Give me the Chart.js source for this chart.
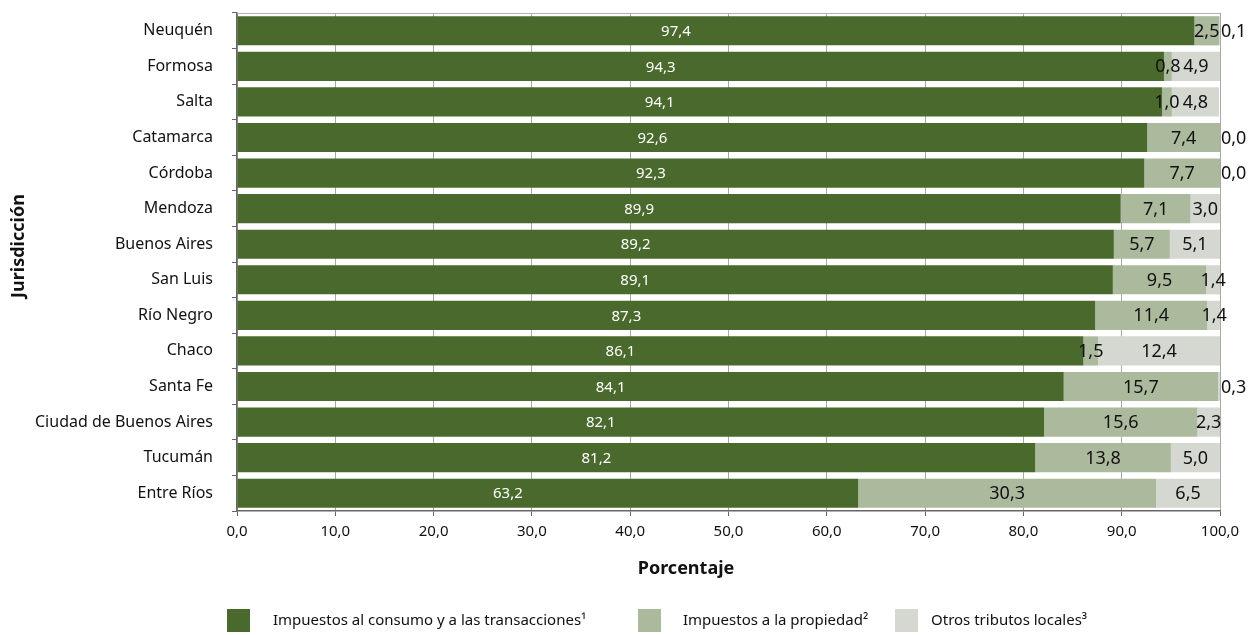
<!DOCTYPE html>
<html>
<head>
<meta charset="utf-8">
<script src="https://cdn.jsdelivr.net/npm/chart.js@4.4.1/dist/chart.umd.min.js"></script>
<style>
  html, body { margin: 0; padding: 0; background: #fff; }
  #wrap { width: 1252px; height: 635px; }
</style>
</head>
<body>
<div id="wrap"><canvas id="grafico" width="1252" height="635"></canvas></div>
<script>
// jurisdicciones, de arriba hacia abajo
const jurisdicciones = ["Neuquén", "Formosa", "Salta", "Catamarca", "Córdoba", "Mendoza", "Buenos Aires",
  "San Luis", "Río Negro", "Chaco", "Santa Fe", "Ciudad de Buenos Aires", "Tucumán", "Entre Ríos"];

const consumo   = [97.4, 94.3, 94.1, 92.6, 92.3, 89.9, 89.2, 89.1, 87.3, 86.1, 84.1, 82.1, 81.2, 63.2];
const propiedad = [2.5, 0.8, 1.0, 7.4, 7.7, 7.1, 5.7, 9.5, 11.4, 1.5, 15.7, 15.6, 13.8, 30.3];
const otros     = [0.1, 4.9, 4.8, 0.0, 0.0, 3.0, 5.1, 1.4, 1.4, 12.4, 0.3, 2.3, 5.0, 6.5];

const nombresSeries = ["Impuestos al consumo y a las transacciones¹", "Impuestos a la propiedad²", "Otros tributos locales³"];
const xTicks = [0, 10, 20, 30, 40, 50, 60, 70, 80, 90, 100];
const tituloX = "Porcentaje";
const tituloY = "Jurisdicción";

const colores = ["#4a6a2d", "#abb99c", "#d5d7d1"];
const FUENTE = "'Noto Sans', sans-serif";

const coma = v => v.toFixed(1).replace('.', ',');

// etiquetas de valores sobre las barras
const etiquetas = {
  id: 'etiquetas',
  afterDatasetsDraw(chart) {
    const ctx = chart.ctx;
    const area = chart.chartArea;
    ctx.save();
    ctx.textBaseline = 'middle';
    chart.data.datasets.forEach((ds, di) => {
      const meta = chart.getDatasetMeta(di);
      meta.data.forEach((bar, i) => {
        const v = ds.data[i];
        const txt = coma(v);
        const izq = bar.base, der = bar.x;
        const y = bar.y + 1;
        if (di === 0) {
          ctx.font = "15px " + FUENTE;
          ctx.fillStyle = "#ffffff";
          ctx.textAlign = 'center';
          ctx.fillText(txt, (izq + der) / 2 - 40, y);
        } else {
          ctx.font = "18px " + FUENTE;
          ctx.fillStyle = "#111111";
          if (der - izq < 5) {
            // tramos casi vacios: la etiqueta va fuera del grafico
            ctx.textAlign = 'left';
            ctx.fillText(txt, area.right + 1, y);
          } else {
            ctx.textAlign = 'center';
            ctx.fillText(txt, (izq + der) / 2, y);
          }
        }
      });
    });
    ctx.restore();
  }
};

// marco superior, titulos de ejes y leyenda
const extras = {
  id: 'extras',
  afterDraw(chart) {
    const ctx = chart.ctx;
    const a = chart.chartArea;
    ctx.save();
    ctx.strokeStyle = "#b0b0b0";
    ctx.lineWidth = 1;
    ctx.beginPath();
    ctx.moveTo(a.left, a.top + 0.5);
    ctx.lineTo(a.right, a.top + 0.5);
    ctx.stroke();

    ctx.fillStyle = "#111111";
    ctx.font = "bold 18px " + FUENTE;
    ctx.textAlign = 'center';
    ctx.textBaseline = 'middle';
    ctx.fillText(tituloX, 686, 569);
    ctx.save();
    ctx.translate(19, 246);
    ctx.rotate(-Math.PI / 2);
    ctx.fillText(tituloY, 0, 0);
    ctx.restore();

    const cajas = [227, 638, 895];
    const textos = [273, 683, 931];
    ctx.font = "15px " + FUENTE;
    ctx.textAlign = 'left';
    nombresSeries.forEach((n, i) => {
      ctx.fillStyle = colores[i];
      ctx.fillRect(cajas[i], 609, 23, 23);
      ctx.fillStyle = "#111111";
      ctx.fillText(n, textos[i], 621);
    });
    ctx.restore();
  }
};

new Chart(document.getElementById('grafico'), {
  type: 'bar',
  data: {
    labels: jurisdicciones,
    datasets: [
      { label: nombresSeries[0], data: consumo, backgroundColor: colores[0] },
      { label: nombresSeries[1], data: propiedad, backgroundColor: colores[1] },
      { label: nombresSeries[2], data: otros, backgroundColor: colores[2] }
    ]
  },
  options: {
    indexAxis: 'y',
    responsive: false,
    animation: false,
    devicePixelRatio: 1,
    categoryPercentage: 1,
    barPercentage: 0.82,
    layout: { padding: { left: 0, right: 32, top: 13, bottom: 48 } },
    plugins: {
      legend: { display: false },
      tooltip: { enabled: false }
    },
    scales: {
      x: {
        stacked: true,
        min: 0,
        max: 100,
        afterBuildTicks: s => { s.ticks = xTicks.map(v => ({ value: v })); },
        afterFit: s => { s.height = 76; s.paddingLeft = 0; s.paddingRight = 0; },
        grid: { color: "#a8a8a8", tickColor: "#666666", tickLength: 5, lineWidth: 1 },
        border: { color: "#666666", width: 1.5 },
        ticks: { color: "#111111", font: { family: FUENTE, size: 15 }, padding: 7, maxRotation: 0, callback: v => coma(v) }
      },
      y: {
        stacked: true,
        afterFit: s => { s.width = 237; s.paddingTop = 0; s.paddingBottom = 0; },
        grid: { offset: true, drawOnChartArea: false, tickColor: "#666666", tickLength: 5 },
        border: { color: "#666666", width: 1.5 },
        ticks: { color: "#111111", font: { family: FUENTE, size: 16 }, padding: 19 }
      }
    }
  },
  plugins: [etiquetas, extras]
});
</script>
</body>
</html>
